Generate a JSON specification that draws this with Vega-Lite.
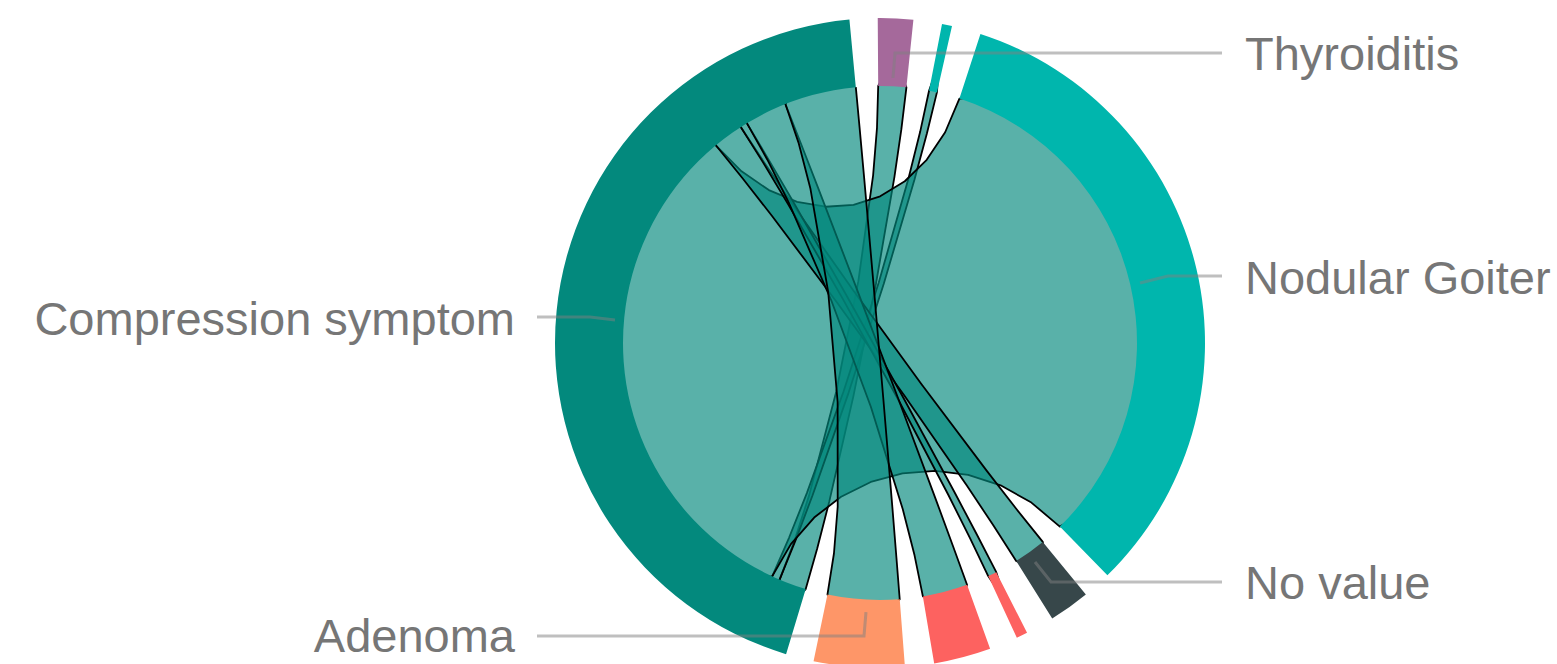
{
  "$schema": "https://vega.github.io/schema/vega-lite/v6.json",
  "width": 1354,
  "height": 642,
  "autosize": {"type": "none"},
  "padding": {"left": 203, "top": 22, "right": 0, "bottom": 0},
  "background": "white",
  "config": {"view": {"stroke": null}},
  "datasets": {
    "ring": [
      {"node": "Thyroiditis", "start": -0.4, "end": 5.9},
      {"node": "Unlabeled A", "start": 11.0, "end": 12.8},
      {"node": "Nodular Goiter", "start": 18.0, "end": 135.6},
      {"node": "No value", "start": 140.7, "end": 148.0},
      {"node": "Unlabeled B", "start": 153.1, "end": 155.1},
      {"node": "Unlabeled C", "start": 160.2, "end": 170.4},
      {"node": "Adenoma", "start": 175.6, "end": 191.8},
      {"node": "Compression symptom", "start": 196.8, "end": 354.6}
    ],
    "chords": [
      {"c": "1", "i": 0, "x": -0.3907, "y": -0.9205},
      {"c": "1", "i": 1, "x": -0.3324, "y": -0.7684},
      {"c": "1", "i": 2, "x": -0.2755, "y": -0.5920},
      {"c": "1", "i": 3, "x": -0.1703, "y": -0.1897},
      {"c": "1", "i": 4, "x": -0.0843, "y": 0.2405},
      {"c": "1", "i": 5, "x": -0.0268, "y": 0.6525},
      {"c": "1", "i": 6, "x": -0.0117, "y": 0.8372},
      {"c": "1", "i": 7, "x": -0.0070, "y": 1.0000},
      {"c": "1", "i": 8, "x": 0.0537, "y": 1.1187},
      {"c": "1", "i": 9, "x": 0.1028, "y": 0.9947},
      {"c": "1", "i": 10, "x": 0.0832, "y": 0.8321},
      {"c": "1", "i": 11, "x": 0.0562, "y": 0.6467},
      {"c": "1", "i": 12, "x": -0.0157, "y": 0.2306},
      {"c": "1", "i": 13, "x": -0.1034, "y": -0.2067},
      {"c": "1", "i": 14, "x": -0.1977, "y": -0.6182},
      {"c": "1", "i": 15, "x": -0.2443, "y": -0.7998},
      {"c": "1", "i": 16, "x": -0.2890, "y": -0.9573},
      {"c": "1", "i": 17, "x": -0.3812, "y": -1.0531},

      {"c": "2", "i": 0, "x": -0.4195, "y": -0.9078},
      {"c": "2", "i": 1, "x": -0.3540, "y": -0.7579},
      {"c": "2", "i": 2, "x": -0.2846, "y": -0.5841},
      {"c": "2", "i": 3, "x": -0.1415, "y": -0.1880},
      {"c": "2", "i": 4, "x": -0.0049, "y": 0.2353},
      {"c": "2", "i": 5, "x": 0.1108, "y": 0.6402},
      {"c": "2", "i": 6, "x": 0.1562, "y": 0.8217},
      {"c": "2", "i": 7, "x": 0.1908, "y": 0.9816},
      {"c": "2", "i": 8, "x": 0.2309, "y": 1.0959},
      {"c": "2", "i": 9, "x": 0.2215, "y": 0.9751},
      {"c": "2", "i": 10, "x": 0.1827, "y": 0.8160},
      {"c": "2", "i": 11, "x": 0.1340, "y": 0.6350},
      {"c": "2", "i": 12, "x": 0.0144, "y": 0.2297},
      {"c": "2", "i": 13, "x": -0.1227, "y": -0.1949},
      {"c": "2", "i": 14, "x": -0.2627, "y": -0.5934},
      {"c": "2", "i": 15, "x": -0.3291, "y": -0.7688},
      {"c": "2", "i": 16, "x": -0.3907, "y": -0.9205},
      {"c": "2", "i": 17, "x": -0.4537, "y": -1.0240},

      {"c": "3", "i": 0, "x": -0.6388, "y": 0.7694},
      {"c": "3", "i": 1, "x": -0.5388, "y": 0.6682},
      {"c": "3", "i": 2, "x": -0.4324, "y": 0.5950},
      {"c": "3", "i": 3, "x": -0.3225, "y": 0.5492},
      {"c": "3", "i": 4, "x": -0.2117, "y": 0.5302},
      {"c": "3", "i": 5, "x": -0.1031, "y": 0.5377},
      {"c": "3", "i": 6, "x": 0.0006, "y": 0.5709},
      {"c": "3", "i": 7, "x": 0.0965, "y": 0.6294},
      {"c": "3", "i": 8, "x": 0.1817, "y": 0.7127},
      {"c": "3", "i": 9, "x": 0.2535, "y": 0.8201},
      {"c": "3", "i": 10, "x": 0.3090, "y": 0.9511},
      {"c": "3", "i": 11, "x": 0.5600, "y": 0.9699},
      {"c": "3", "i": 12, "x": 0.7920, "y": 0.7920},
      {"c": "3", "i": 13, "x": 0.9699, "y": 0.5600},
      {"c": "3", "i": 14, "x": 1.0818, "y": 0.2899},
      {"c": "3", "i": 15, "x": 1.1200, "y": 0.0000},
      {"c": "3", "i": 16, "x": 1.0818, "y": -0.2899},
      {"c": "3", "i": 17, "x": 0.9699, "y": -0.5600},
      {"c": "3", "i": 18, "x": 0.6997, "y": -0.7145},
      {"c": "3", "i": 19, "x": 0.5890, "y": -0.6209},
      {"c": "3", "i": 20, "x": 0.4691, "y": -0.5538},
      {"c": "3", "i": 21, "x": 0.3433, "y": -0.5129},
      {"c": "3", "i": 22, "x": 0.2150, "y": -0.4975},
      {"c": "3", "i": 23, "x": 0.0876, "y": -0.5070},
      {"c": "3", "i": 24, "x": -0.0357, "y": -0.5408},
      {"c": "3", "i": 25, "x": -0.1514, "y": -0.5983},
      {"c": "3", "i": 26, "x": -0.2561, "y": -0.6791},
      {"c": "3", "i": 27, "x": -0.3467, "y": -0.7825},
      {"c": "3", "i": 28, "x": -0.4195, "y": -0.9078},
      {"c": "3", "i": 29, "x": -0.6424, "y": -0.9175},
      {"c": "3", "i": 30, "x": -0.8579, "y": -0.7199},
      {"c": "3", "i": 31, "x": -1.0151, "y": -0.4733},
      {"c": "3", "i": 32, "x": -1.1030, "y": -0.1944},
      {"c": "3", "i": 33, "x": -1.1157, "y": 0.0977},
      {"c": "3", "i": 34, "x": -1.0525, "y": 0.3830},
      {"c": "3", "i": 35, "x": -0.9175, "y": 0.6424},

      {"c": "4", "i": 0, "x": -0.5417, "y": 0.8406},
      {"c": "4", "i": 1, "x": -0.4515, "y": 0.7037},
      {"c": "4", "i": 2, "x": -0.3459, "y": 0.5485},
      {"c": "4", "i": 3, "x": -0.1023, "y": 0.2021},
      {"c": "4", "i": 4, "x": 0.1609, "y": -0.1595},
      {"c": "4", "i": 5, "x": 0.4156, "y": -0.4977},
      {"c": "4", "i": 6, "x": 0.5308, "y": -0.6459},
      {"c": "4", "i": 7, "x": 0.6334, "y": -0.7738},
      {"c": "4", "i": 8, "x": 0.6528, "y": -0.9100},
      {"c": "4", "i": 9, "x": 0.5299, "y": -0.8480},
      {"c": "4", "i": 10, "x": 0.4414, "y": -0.7100},
      {"c": "4", "i": 11, "x": 0.3372, "y": -0.5539},
      {"c": "4", "i": 12, "x": 0.0960, "y": -0.2063},
      {"c": "4", "i": 13, "x": -0.1658, "y": 0.1560},
      {"c": "4", "i": 14, "x": -0.4200, "y": 0.4942},
      {"c": "4", "i": 15, "x": -0.5356, "y": 0.6421},
      {"c": "4", "i": 16, "x": -0.6388, "y": 0.7694},
      {"c": "4", "i": 17, "x": -0.6623, "y": 0.9032},

      {"c": "5", "i": 0, "x": -0.5180, "y": 0.8554},
      {"c": "5", "i": 1, "x": -0.4340, "y": 0.7146},
      {"c": "5", "i": 2, "x": -0.3394, "y": 0.5523},
      {"c": "5", "i": 3, "x": -0.1297, "y": 0.1840},
      {"c": "5", "i": 4, "x": 0.0877, "y": -0.2074},
      {"c": "5", "i": 5, "x": 0.2895, "y": -0.5799},
      {"c": "5", "i": 6, "x": 0.3773, "y": -0.7461},
      {"c": "5", "i": 7, "x": 0.4524, "y": -0.8918},
      {"c": "5", "i": 8, "x": 0.4892, "y": -1.0076},
      {"c": "5", "i": 9, "x": 0.4210, "y": -0.9070},
      {"c": "5", "i": 10, "x": 0.3502, "y": -0.7592},
      {"c": "5", "i": 11, "x": 0.2661, "y": -0.5914},
      {"c": "5", "i": 12, "x": 0.0692, "y": -0.2170},
      {"c": "5", "i": 13, "x": -0.1464, "y": 0.1744},
      {"c": "5", "i": 14, "x": -0.3578, "y": 0.5410},
      {"c": "5", "i": 15, "x": -0.4546, "y": 0.7017},
      {"c": "5", "i": 16, "x": -0.5417, "y": 0.8406},
      {"c": "5", "i": 17, "x": -0.5935, "y": 0.9498},

      {"c": "6", "i": 0, "x": -0.3681, "y": 0.9298},
      {"c": "6", "i": 1, "x": -0.3082, "y": 0.7772},
      {"c": "6", "i": 2, "x": -0.2401, "y": 0.6019},
      {"c": "6", "i": 3, "x": -0.0886, "y": 0.2060},
      {"c": "6", "i": 4, "x": 0.0697, "y": -0.2131},
      {"c": "6", "i": 5, "x": 0.2178, "y": -0.6103},
      {"c": "6", "i": 6, "x": 0.2828, "y": -0.7868},
      {"c": "6", "i": 7, "x": 0.3387, "y": -0.9409},
      {"c": "6", "i": 8, "x": 0.2843, "y": -1.0834},
      {"c": "6", "i": 9, "x": 0.1668, "y": -0.9860},
      {"c": "6", "i": 10, "x": 0.1344, "y": -0.8262},
      {"c": "6", "i": 11, "x": 0.0884, "y": -0.6462},
      {"c": "6", "i": 12, "x": -0.0356, "y": -0.2481},
      {"c": "6", "i": 13, "x": -0.1891, "y": 0.1644},
      {"c": "6", "i": 14, "x": -0.3554, "y": 0.5470},
      {"c": "6", "i": 15, "x": -0.4382, "y": 0.7132},
      {"c": "6", "i": 16, "x": -0.5180, "y": 0.8554},
      {"c": "6", "i": 17, "x": -0.4980, "y": 1.0032},

      {"c": "7", "i": 0, "x": -0.0941, "y": 0.9956},
      {"c": "7", "i": 1, "x": -0.0789, "y": 0.8323},
      {"c": "7", "i": 2, "x": -0.0619, "y": 0.6451},
      {"c": "7", "i": 3, "x": -0.0247, "y": 0.2227},
      {"c": "7", "i": 4, "x": 0.0135, "y": -0.2236},
      {"c": "7", "i": 5, "x": 0.0487, "y": -0.6462},
      {"c": "7", "i": 6, "x": 0.0638, "y": -0.8336},
      {"c": "7", "i": 7, "x": 0.0767, "y": -0.9971},
      {"c": "7", "i": 8, "x": -0.0723, "y": -1.1177},
      {"c": "7", "i": 9, "x": -0.2045, "y": -0.9789},
      {"c": "7", "i": 10, "x": -0.1792, "y": -0.8191},
      {"c": "7", "i": 11, "x": -0.1646, "y": -0.6370},
      {"c": "7", "i": 12, "x": -0.1649, "y": -0.2295},
      {"c": "7", "i": 13, "x": -0.2015, "y": 0.1981},
      {"c": "7", "i": 14, "x": -0.2706, "y": 0.5998},
      {"c": "7", "i": 15, "x": -0.3161, "y": 0.7766},
      {"c": "7", "i": 16, "x": -0.3681, "y": 0.9298},
      {"c": "7", "i": 17, "x": -0.2614, "y": 1.0891}
    ],
    "leaders": [
      {"l": "Thyroiditis", "i": 0, "x": 0.0506, "y": 1.0311},
      {"l": "Thyroiditis", "i": 1, "x": 0.0584, "y": 1.1284},
      {"l": "Thyroiditis", "i": 2, "x": 1.3307, "y": 1.1284},
      {"l": "Nodular Goiter", "i": 0, "x": 1.0117, "y": 0.2335},
      {"l": "Nodular Goiter", "i": 1, "x": 1.1206, "y": 0.2607},
      {"l": "Nodular Goiter", "i": 2, "x": 1.3307, "y": 0.2607},
      {"l": "No value", "i": 0, "x": 0.6031, "y": -0.8521},
      {"l": "No value", "i": 1, "x": 0.6654, "y": -0.9300},
      {"l": "No value", "i": 2, "x": 1.3307, "y": -0.9300},
      {"l": "Compression symptom", "i": 0, "x": -1.3346, "y": 0.1012},
      {"l": "Compression symptom", "i": 1, "x": -1.1284, "y": 0.1012},
      {"l": "Compression symptom", "i": 2, "x": -1.0311, "y": 0.0895},
      {"l": "Adenoma", "i": 0, "x": -1.3346, "y": -1.1401},
      {"l": "Adenoma", "i": 1, "x": -0.0623, "y": -1.1401},
      {"l": "Adenoma", "i": 2, "x": -0.0545, "y": -1.0467}
    ],
    "labels": [
      {"label": "Thyroiditis", "side": "right", "x": 1.4202, "y": 1.1167},
      {"label": "Nodular Goiter", "side": "right", "x": 1.4202, "y": 0.2451},
      {"label": "No value", "side": "right", "x": 1.4202, "y": -0.9416},
      {"label": "Compression symptom", "side": "left", "x": -1.4202, "y": 0.0875},
      {"label": "Adenoma", "side": "left", "x": -1.4202, "y": -1.1459}
    ]
  },
  "layer": [
    {
      "data": {"name": "chords"},
      "mark": {"type": "line", "interpolate": "linear", "fill": "#03897d", "fillOpacity": 0.66, "stroke": "#000000", "strokeWidth": 1.8, "strokeJoin": "round"},
      "encoding": {
        "x": {"field": "x", "type": "quantitative", "scale": {"domain": [-2.6342, 2.6342], "nice": false, "zero": false}, "axis": null},
        "y": {"field": "y", "type": "quantitative", "scale": {"domain": [-1.249, 1.249], "nice": false, "zero": false}, "axis": null},
        "detail": {"field": "c", "type": "nominal"},
        "order": {"field": "i", "type": "quantitative"}
      }
    },
    {
      "data": {"name": "ring"},
      "mark": {"type": "arc", "radius": 325, "radius2": 257},
      "encoding": {
        "theta": {"field": "start", "type": "quantitative", "stack": null, "scale": {"domain": [0, 360], "range": [0, 6.283185]}},
        "theta2": {"field": "end"},
        "color": {"field": "node", "type": "nominal", "legend": null,
          "scale": {"domain": ["Thyroiditis", "Unlabeled A", "Nodular Goiter", "No value", "Unlabeled B", "Unlabeled C", "Adenoma", "Compression symptom"],
                    "range": ["#a5699b", "#00b6ad", "#00b6ad", "#37474a", "#fd6260", "#fd6260", "#fe9668", "#03897d"]}}
      }
    },
    {
      "data": {"name": "leaders"},
      "mark": {"type": "line", "stroke": "#808080", "strokeOpacity": 0.5, "strokeWidth": 3},
      "encoding": {
        "x": {"field": "x", "type": "quantitative", "scale": {"domain": [-2.6342, 2.6342], "nice": false, "zero": false}, "axis": null},
        "y": {"field": "y", "type": "quantitative", "scale": {"domain": [-1.249, 1.249], "nice": false, "zero": false}, "axis": null},
        "detail": {"field": "l", "type": "nominal"},
        "order": {"field": "i", "type": "quantitative"}
      }
    },
    {
      "data": {"name": "labels"},
      "transform": [{"filter": "datum.side == 'right'"}],
      "mark": {"type": "text", "align": "left", "baseline": "middle", "font": "Liberation Sans", "fontSize": 47, "color": "#767676"},
      "encoding": {
        "x": {"field": "x", "type": "quantitative", "scale": {"domain": [-2.6342, 2.6342], "nice": false, "zero": false}, "axis": null},
        "y": {"field": "y", "type": "quantitative", "scale": {"domain": [-1.249, 1.249], "nice": false, "zero": false}, "axis": null},
        "text": {"field": "label"}
      }
    },
    {
      "data": {"name": "labels"},
      "transform": [{"filter": "datum.side == 'left'"}],
      "mark": {"type": "text", "align": "right", "baseline": "middle", "font": "Liberation Sans", "fontSize": 47, "color": "#767676"},
      "encoding": {
        "x": {"field": "x", "type": "quantitative", "scale": {"domain": [-2.6342, 2.6342], "nice": false, "zero": false}, "axis": null},
        "y": {"field": "y", "type": "quantitative", "scale": {"domain": [-1.249, 1.249], "nice": false, "zero": false}, "axis": null},
        "text": {"field": "label"}
      }
    }
  ]
}
